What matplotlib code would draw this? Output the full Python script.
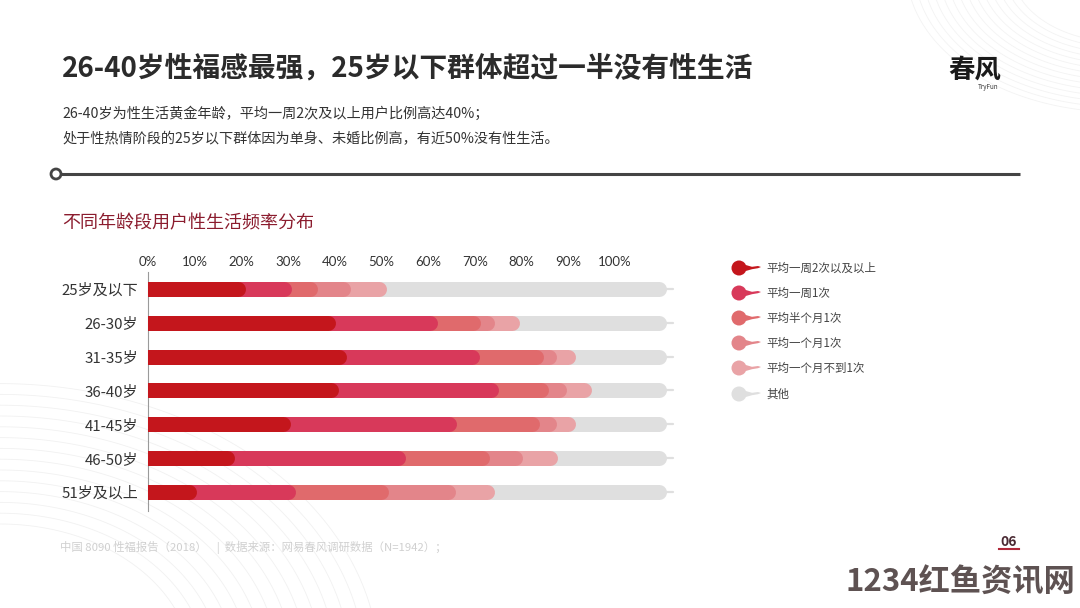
import matplotlib
matplotlib.use("Agg")
import matplotlib.pyplot as plt
from matplotlib.patches import Circle, Polygon
import numpy as np

plt.rcParams['font.family'] = ['Noto Sans CJK SC', 'DejaVu Sans']

# ---------------- data ----------------
age_groups = ["25岁及以下", "26-30岁", "31-35岁", "36-40岁", "41-45岁", "46-50岁", "51岁及以上"]
series_names = ["平均一周2次以及以上", "平均一周1次", "平均半个月1次", "平均一个月1次", "平均一个月不到1次", "其他"]
weekly_2plus = [20.8, 40.2, 42.5, 40.9, 30.6, 18.6, 10.4]
weekly_1 = [9.9, 21.9, 28.4, 34.1, 35.5, 36.6, 21.2]
halfmonth_1 = [5.6, 9.2, 13.7, 10.7, 17.7, 17.9, 19.8]
month_1 = [7.0, 2.8, 2.9, 3.9, 3.7, 7.0, 14.4]
month_less1 = [7.7, 5.5, 4.1, 5.3, 4.1, 7.6, 8.3]
other = [49.0, 20.4, 8.4, 5.1, 8.5, 12.3, 25.9]
tick_values = [0, 10, 20, 30, 40, 50, 60, 70, 80, 90, 100]
tick_labels = ["0%", "10%", "20%", "30%", "40%", "50%", "60%", "70%", "80%", "90%", "100%"]

colors = ["#c4161c", "#d8395a", "#e06a6c", "#e3858a", "#e9a3a6", "#dfdfdf"]

W, H = 1080, 608
fig = plt.figure(figsize=(W / 100, H / 100), dpi=100)
fig.patch.set_facecolor("white")

# overlay axes in pixel coordinates for decoration
ov = fig.add_axes([0, 0, 1, 1], zorder=0)
ov.set_xlim(0, W)
ov.set_ylim(H, 0)
ov.axis("off")

# faint decorative background waves
for k in range(14):
    r = 120 + k * 9
    t = np.linspace(0, np.pi / 2, 100)
    ov.plot(r * np.cos(t) * 1.6, H - r * np.sin(t) * 1.2 + 60, color="#f1f1f1", lw=0.6, zorder=0)
    ov.plot(W - r * np.cos(t) * 0.9 + 40, r * np.sin(t) * 0.6 - 30, color="#f3f3f3", lw=0.6, zorder=0)

# titles
ov.text(62, 68, "26-40岁性福感最强，25岁以下群体超过一半没有性生活", fontsize=20, fontweight="bold",
        color="#2b2b2b", va="center", ha="left")
ov.text(62, 114, "26-40岁为性生活黄金年龄，平均一周2次及以上用户比例高达40%；", fontsize=10.2,
        color="#333333", va="center", ha="left")
ov.text(62, 139, "处于性热情阶段的25岁以下群体因为单身、未婚比例高，有近50%没有性生活。", fontsize=10.2,
        color="#333333", va="center", ha="left")

# rule with circle
ov.plot([61, 1020], [174, 174], color="#444444", lw=2.2, solid_capstyle="butt", zorder=2)
ov.add_patch(Circle((56, 174), 5, facecolor="white", edgecolor="#444444", lw=2, zorder=3))

ov.text(62, 223, "不同年龄段用户性生活频率分布", fontsize=13, color="#8b1c2e", va="center", ha="left")

# logo
ov.text(975, 70, "春风", fontsize=19, color="#1a1a1a", va="center", ha="center", fontweight="bold")
ov.text(988, 87, "TryFun", fontsize=4.5, color="#333333", va="center", ha="center")

# footer
ov.text(60, 548, "中国 8090 性福报告（2018）    |  数据来源：网易春风调研数据（N=1942）；", fontsize=8.2,
        color="#d0d0d0", va="center", ha="left")
ov.text(1009, 542, "06", fontsize=10, color="#4a2a33", va="center", ha="center", fontweight="bold")
ov.plot([999, 1019], [549, 549], color="#b0283a", lw=1.5)
ov.text(1075, 583, "1234红鱼资讯网", fontsize=22.5, color="#5e5252", va="center", ha="right",
        fontweight="bold")

# legend
leg_y = [268, 293, 318, 343, 368, 394]
for name, c, y in zip(series_names, colors, leg_y):
    ov.add_patch(Circle((739, y), 7.5, facecolor=c, edgecolor="none", zorder=3))
    ov.add_patch(Polygon([(744, y - 3.5), (752, y - 1.2), (758, y - 2.0), (761, y - 1.0),
                          (758, y + 0.2), (752, y + 1.2), (744, y + 3.5)],
                         closed=True, facecolor=c, edgecolor="none", zorder=3))
    ov.text(766, y, name, fontsize=8.3, color="#444444", va="center", ha="left")

# ---------------- chart axes ----------------
x0_px, x1_px = 148, 685
y_top_px, y_bot_px = 272, 511
ax = fig.add_axes([x0_px / W, 1 - y_bot_px / H, (x1_px - x0_px) / W, (y_bot_px - y_top_px) / H], zorder=1)
ax.set_facecolor("none")
ax.set_xlim(0, 115)
ax.set_ylim(6.56, -0.5)
for s in ["top", "right", "bottom"]:
    ax.spines[s].set_visible(False)
ax.spines["left"].set_color("#9a9a9a")
ax.spines["left"].set_linewidth(0.8)

ax.xaxis.tick_top()
ax.set_xticks(tick_values)
ax.set_xticklabels(tick_labels, fontsize=9.5, color="#333333", family=["Lato", "DejaVu Sans"])
ax.tick_params(axis="x", length=0, pad=3)
ypos = np.arange(len(age_groups))
ax.set_yticks(ypos)
ax.set_yticklabels(age_groups, fontsize=10.8, color="#333333")
ax.tick_params(axis="y", length=0, pad=7)

bar_px = 15
lw_pt = bar_px * 72 / 100
px_per_unit = (x1_px - x0_px) / 115
r = (bar_px / 2) / px_per_unit

segments = [weekly_2plus, weekly_1, halfmonth_1, month_1, month_less1]
cum = np.cumsum(np.array(segments), axis=0)
track_end = 111.0

for i, y in enumerate(ypos):
    # grey track (其他) with small tail
    ax.plot([0, track_end - r], [y, y], color=colors[5], lw=lw_pt, solid_capstyle="round", zorder=1)
    ax.plot([track_end - 0.5, track_end + 1.4], [y, y], color=colors[5], lw=1.6, solid_capstyle="round", zorder=1)
    for j in range(len(segments) - 1, -1, -1):
        end = cum[j, i]
        ax.plot([0, end - r], [y, y], color=colors[j], lw=lw_pt, solid_capstyle="round", zorder=2 + (5 - j))

fig.savefig("out.png", dpi=100, facecolor="white")
